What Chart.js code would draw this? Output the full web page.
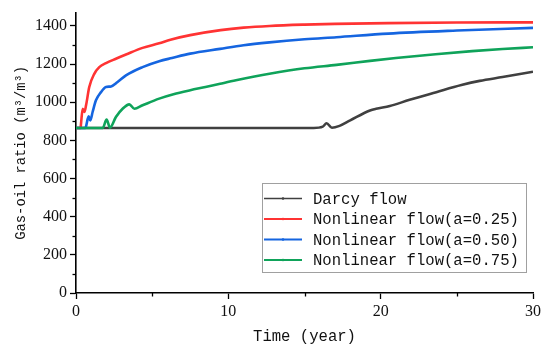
<!DOCTYPE html>
<html lang="en">
<head>
  <meta charset="UTF-8">
  <title>Gas-oil ratio</title>
  <script src="https://cdn.jsdelivr.net/npm/chart.js"></script>
  <style>
    html, body { margin: 0; padding: 0; background: #fff; overflow: hidden; }
  </style>
</head>
<body>
  <canvas id="grafico" width="550" height="351"></canvas>

<script>
  // values (time in years, GOR in m3/m3)
  const darcyTime = [0, 15.6, 16.2, 16.45, 16.8, 17.3, 18, 19.3, 19.7, 20.6, 21.9, 23.65, 25.3, 26.5, 28, 30];
  const darcyGor  = [865, 865, 872, 890, 866, 876, 905, 957, 966, 980, 1013, 1053, 1090, 1112, 1132, 1160];

  const a25Time = [0, 0.3, 0.33, 0.44, 0.55, 0.66, 0.87, 1.2, 1.53, 1.97, 2.62, 3.28, 4.37, 5.46, 6.2, 7.5, 9.5, 11, 12.7, 15, 17, 20.5, 25, 30];
  const a25Gor  = [865, 865, 888, 966, 949, 984, 1080, 1149, 1184, 1205, 1228, 1250, 1285, 1309, 1328, 1352, 1378, 1391, 1400, 1407, 1411, 1415, 1418, 1419];

  const a50Time = [0, 0.62, 0.66, 0.83, 0.94, 1.09, 1.31, 1.64, 1.97, 2.3, 2.73, 3.28, 4.37, 5.46, 6.3, 7.5, 9.46, 11, 12.7, 15, 17.1, 20.5, 25, 30];
  const a50Gor  = [865, 865, 874, 926, 905, 949, 1010, 1053, 1080, 1083, 1106, 1141, 1184, 1215, 1232, 1255, 1280, 1299, 1314, 1330, 1341, 1360, 1376, 1390];

  const a75Time = [0, 1.75, 2.01, 2.23, 2.62, 3.06, 3.5, 3.83, 4.37, 5.46, 6.4, 7.5, 8.5, 9.46, 10.5, 12.7, 15, 17.1, 19.3, 21, 23.6, 26, 28, 30];
  const a75Gor  = [865, 865, 909, 867, 923, 966, 989, 966, 984, 1019, 1042, 1063, 1080, 1097, 1115, 1149, 1178, 1196, 1217, 1232, 1252, 1268, 1279, 1288];

  const nomes = ['Darcy flow', 'Nonlinear flow(a=0.25)', 'Nonlinear flow(a=0.50)', 'Nonlinear flow(a=0.75)'];
  const cores = ['#404040', '#FF3333', '#1565E0', '#0FA35A'];

  const xMajor = [0, 10, 20, 30];
  const xMinor = [5, 15, 25];
  const yMajor = [0, 200, 400, 600, 800, 1000, 1200, 1400];
  const yMinor = [100, 300, 500, 700, 900, 1100, 1300];

  function pares(xs, ys) {
    return xs.map((x, i) => ({ x: x, y: ys[i] }));
  }

  const series = [
    pares(darcyTime, darcyGor),
    pares(a25Time, a25Gor),
    pares(a50Time, a50Gor),
    pares(a75Time, a75Gor)
  ];

  const fonteMono = '"Liberation Mono", "DejaVu Sans Mono", monospace';
  const fonteNum = '"Liberation Serif", "DejaVu Serif", serif';

  // short ticks between the labelled ones
  const minorTicks = {
    id: 'minorTicks',
    afterDraw(chart) {
      const c = chart.ctx;
      const xs = chart.scales.x;
      const ys = chart.scales.y;
      const area = chart.chartArea;
      c.save();
      c.strokeStyle = '#000';
      c.lineWidth = 1.3;
      xMinor.forEach(v => {
        const p = Math.round(xs.getPixelForValue(v)) + 0.5;
        c.beginPath();
        c.moveTo(p, area.bottom);
        c.lineTo(p, area.bottom + 3.5);
        c.stroke();
      });
      yMinor.forEach(v => {
        const p = Math.round(ys.getPixelForValue(v)) + 0.5;
        c.beginPath();
        c.moveTo(area.left, p);
        c.lineTo(area.left - 3.5, p);
        c.stroke();
      });
      c.restore();
    }
  };

  // legend box in the lower right, Origin style
  const legendaBox = {
    id: 'legendaBox',
    afterDraw(chart) {
      const c = chart.ctx;
      const x0 = 262, y0 = 183, w = 264, h = 89;
      c.save();
      c.fillStyle = '#fff';
      c.fillRect(x0, y0, w, h);
      c.strokeStyle = '#a0a0a0';
      c.lineWidth = 1;
      c.strokeRect(x0 + 0.5, y0 + 0.5, w, h);
      c.font = '15.6px ' + fonteMono;
      c.textBaseline = 'middle';
      c.textAlign = 'left';
      nomes.forEach((nome, i) => {
        const yy = 198.5 + i * 20.5;
        c.strokeStyle = cores[i];
        c.lineWidth = i == 0 ? 1.5 : 2;
        c.beginPath();
        c.moveTo(264, yy);
        c.lineTo(302, yy);
        c.stroke();
        c.fillStyle = cores[i];
        c.beginPath();
        c.arc(283, yy, 1.3, 0, Math.PI * 2);
        c.fill();
        c.fillStyle = '#111';
        c.fillText(nome, 313, yy + 1);
      });
      c.restore();
    }
  };

  const ctx = document.getElementById('grafico');

  const grafico = new Chart(ctx, {
    type: 'line',
    data: {
      datasets: series.map((dados, i) => ({
        label: nomes[i],
        data: dados,
        borderColor: cores[i],
        backgroundColor: cores[i],
        borderWidth: 2.6,
        pointRadius: 0,
        cubicInterpolationMode: 'monotone',
        order: 4 - i
      }))
    },
    options: {
      responsive: false,
      animation: false,
      devicePixelRatio: 1,
      layout: { padding: { top: 12, right: 17, left: 0, bottom: 0 } },
      plugins: {
        legend: { display: false },
        tooltip: { enabled: false }
      },
      scales: {
        x: {
          type: 'linear',
          min: 0,
          max: 30,
          afterFit: (s) => { s.height = 58; },
          afterBuildTicks: (s) => { s.ticks = xMajor.map(v => ({ value: v })); },
          ticks: {
            color: '#111',
            font: { family: fonteNum, size: 16 },
            padding: 3,
            maxRotation: 0,
            callback: (v) => String(v)
          },
          grid: { drawOnChartArea: false, drawTicks: true, tickLength: 6, tickColor: '#000', tickWidth: 1.3 },
          border: { display: true, color: '#000', width: 1.6 },
          title: {
            display: true,
            text: 'Time (year)',
            color: '#111',
            font: { family: fonteMono, size: 15.6 },
            padding: { top: 0, bottom: 5 }
          }
        },
        y: {
          min: 0,
          max: 1470,
          afterFit: (s) => { s.width = 76; },
          afterBuildTicks: (s) => { s.ticks = yMajor.map(v => ({ value: v })); },
          ticks: {
            color: '#111',
            font: { family: fonteNum, size: 16 },
            padding: 3,
            callback: (v) => String(v)
          },
          grid: { drawOnChartArea: false, drawTicks: true, tickLength: 6, tickColor: '#000', tickWidth: 1.3 },
          border: { display: true, color: '#000', width: 1.6 },
          title: {
            display: true,
            text: 'Gas-oil ratio (m³/m³)',
            color: '#111',
            font: { family: fonteMono, size: 13.8 },
            padding: { top: 13, bottom: 0 }
          }
        }
      }
    },
    plugins: [minorTicks, legendaBox]
  });
</script>
</body>
</html>
